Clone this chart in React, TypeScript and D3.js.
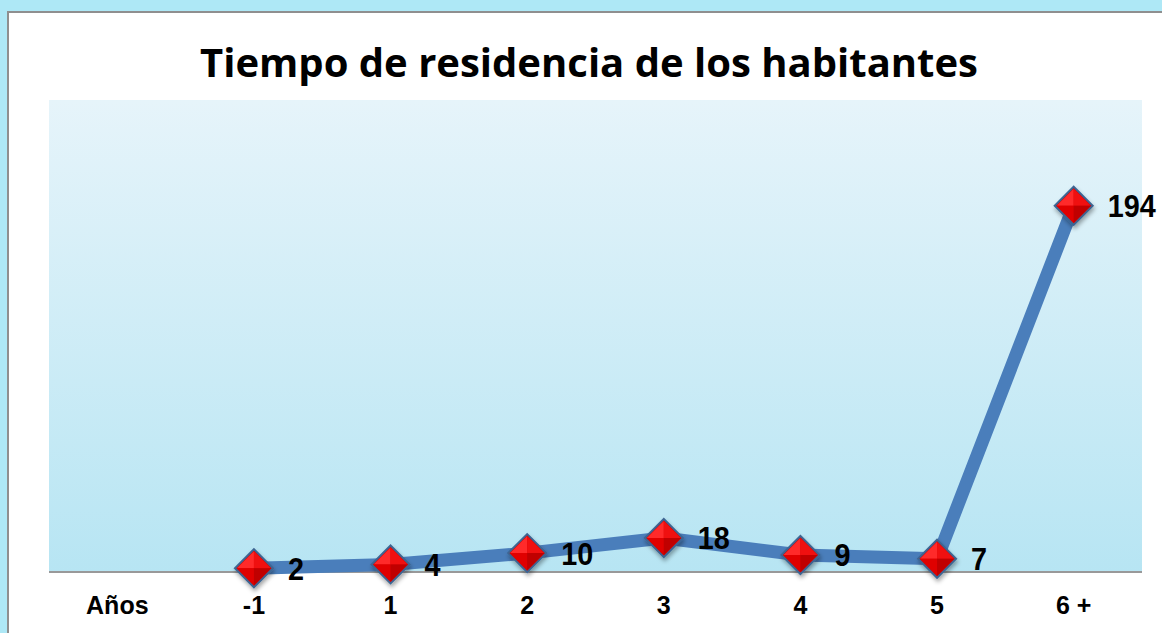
import * as d3 from "d3";

const categories = ["Años", "-1", "1", "2", "3", "4", "5", "6 +"];
const values: (number | null)[] = [null, 2, 4, 10, 18, 9, 7, 194];
const yMax = 250;
const title = "Tiempo de residencia de los habitantes";

export default function App() {
  const W = 1162;
  const H = 633;
  const plot = { left: 49, right: 1142, top: 100, bottom: 572 };

  const x = d3
    .scaleBand<string>()
    .domain(categories)
    .range([plot.left, plot.right]);
  const y = d3.scaleLinear().domain([0, yMax]).range([plot.bottom, plot.top]);

  const pts = categories
    .map((c, i) => ({ c, v: values[i] }))
    .filter((d) => d.v !== null) as { c: string; v: number }[];

  const line = d3
    .line<{ c: string; v: number }>()
    .x((d) => (x(d.c) ?? 0) + x.bandwidth() / 2)
    .y((d) => y(d.v));

  const r = 19;

  return (
    <div style={{ position: "fixed", left: 0, top: 0 }}>
      <svg width={W} height={H} style={{ display: "block" }}>
        <defs>
          <linearGradient id="bg" x1="0" y1="0" x2="0" y2="1">
            <stop offset="0" stopColor="#e6f4fa" />
            <stop offset="1" stopColor="#b7e5f3" />
          </linearGradient>
          <filter id="sh" x="-50%" y="-50%" width="200%" height="200%">
            <feDropShadow dx="1" dy="3" stdDeviation="2" floodColor="#000" floodOpacity="0.35" />
          </filter>
        </defs>
        <rect x={0} y={0} width={W} height={H} fill="#aee8f6" />
        <rect x={8} y={12} width={1170} height={640} fill="#fff" stroke="#8f8f8f" strokeWidth={2} />
        <text
          x={589}
          y={77}
          textAnchor="middle"
          fontFamily="'Open Sans', 'Noto Sans', sans-serif"
          fontWeight="bold"
          fontSize={40}
          textLength={778}
          lengthAdjust="spacingAndGlyphs"
          fill="#000"
        >
          {title}
        </text>
        <rect
          x={plot.left}
          y={plot.top}
          width={plot.right - plot.left}
          height={plot.bottom - plot.top}
          fill="url(#bg)"
        />
        <line x1={plot.left} x2={plot.right} y1={plot.bottom} y2={plot.bottom} stroke="#999" strokeWidth={2} />
        {categories.map((c) => (
          <text
            key={c}
            x={(x(c) ?? 0) + x.bandwidth() / 2}
            y={614}
            textAnchor="middle"
            fontFamily="Arial, 'Liberation Sans', sans-serif"
            fontWeight="bold"
            fontSize={25}
          >
            {c}
          </text>
        ))}
        <path
          d={line(pts) ?? ""}
          fill="none"
          stroke="#4a7ebb"
          strokeWidth={13}
          strokeLinejoin="round"
        />
        {pts.map((d) => {
          const cx = (x(d.c) ?? 0) + x.bandwidth() / 2;
          const cy = y(d.v);
          return (
            <g key={d.c} transform={`translate(${cx},${cy})`}>
              <g filter="url(#sh)">
                <path d={`M0,${-r}L${r},0L0,${r}L${-r},0Z`} fill="#d40000" stroke="#3e6592" strokeWidth={2} />
              </g>
              <path d={`M0,${-r + 2}L${-r + 2},0L0,0Z`} fill="#ff2a2a" />
              <path d={`M0,${-r + 2}L${r - 2},0L0,0Z`} fill="#f01010" />
              <path d={`M0,${r - 2}L${-r + 2},0L0,0Z`} fill="#e00000" />
              <path d={`M0,${r - 2}L${r - 2},0L0,0Z`} fill="#c00000" />
              <text
                transform="translate(34,3) scale(0.9,1)"
                dominantBaseline="middle"
                fontFamily="Arial, 'Liberation Sans', sans-serif"
                fontWeight="bold"
                fontSize={32}
              >
                {d.v}
              </text>
            </g>
          );
        })}
      </svg>
    </div>
  );
}
